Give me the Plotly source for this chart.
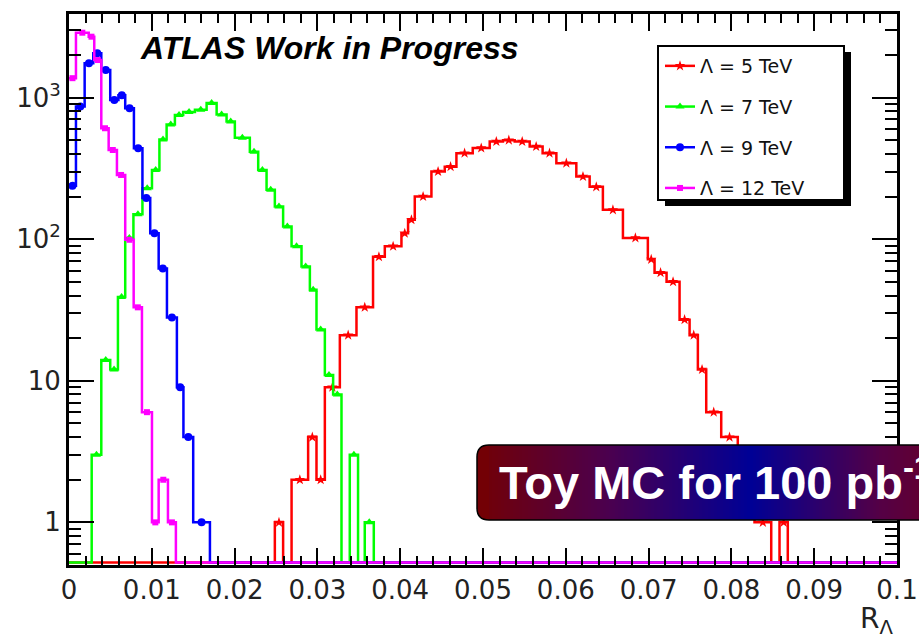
import numpy as np
import plotly.graph_objects as go

# Step edges (in R_Lambda) and entries per step for each contact-interaction scale.
lam5_edges = [0.02486, 0.02586, 0.02688, 0.02888, 0.02989, 0.0309, 0.03271, 0.03472, 0.03672,
              0.03814, 0.04015, 0.04095, 0.04176, 0.04377, 0.04538, 0.04679, 0.04876, 0.05081,
              0.05241, 0.05383, 0.05564, 0.0572, 0.05886, 0.06127, 0.06288, 0.06448, 0.0669,
              0.06991, 0.07072, 0.07217, 0.07374, 0.07495, 0.07595, 0.07696, 0.07877, 0.08077,
              0.08179, 0.08279, 0.08481, 0.08581, 0.08681]
lam5_counts = [1, 0, 2, 4, 2, 9, 21, 33, 75, 89, 110, 137, 200, 300, 325, 405, 440, 489, 500, 489,
               451, 405, 344, 277, 234, 161, 102, 72, 58, 50, 27, 21, 12, 6, 4, 3, 2, 1, 0, 1]

lam7_edges = [0.00274, 0.0039, 0.00498, 0.00591, 0.00679, 0.00778, 0.00887, 0.01002, 0.01092,
              0.01179, 0.01279, 0.01379, 0.01521, 0.01662, 0.01783, 0.01903, 0.02003, 0.02184,
              0.02285, 0.02386, 0.02486, 0.02586, 0.02688, 0.02808, 0.02909, 0.02989, 0.0309,
              0.0319, 0.03291, 0.03391, 0.03491, 0.03572, 0.03681]
lam7_counts = [3, 14, 12, 39, 102, 150, 229, 308, 505, 645, 754, 790, 820, 915, 760, 676, 520, 415,
               308, 223, 170, 123, 89, 64, 44, 23, 11, 8, 0, 3, 0, 1]

lam9_edges = [0.0, 0.00084, 0.00189, 0.00293, 0.0039, 0.00498, 0.00597, 0.00679, 0.00784, 0.00887,
              0.00981, 0.01083, 0.01183, 0.01303, 0.01382, 0.015, 0.01702]
lam9_counts = [238, 863, 1746, 2056, 1567, 962, 1040, 841, 439, 195, 110, 62, 28, 9, 4, 1]

lam12_edges = [0.0, 0.00084, 0.00238, 0.00305, 0.0039, 0.00479, 0.00579, 0.00679, 0.00781, 0.00881,
               0.01002, 0.01083, 0.01195, 0.01291]
lam12_counts = [1370, 2870, 2690, 1840, 607, 426, 284, 99, 33, 6, 1, 2, 1]

series_names = ["\u039b = 5 TeV", "\u039b = 7 TeV", "\u039b = 9 TeV", "\u039b = 12 TeV"]
series_colors = ["#ff0000", "#00ff00", "#0000ff", "#ff00ff"]
series_symbols = ["star", "triangle-up", "circle", "square"]
series_msize = [8, 8, 8, 6]

y_tick_vals = [1, 10, 100, 1000]
y_tick_text = ["1", "10", "10<sup>2</sup>", "10<sup>3</sup>"]

X_RANGE = (0.0, 0.1)
Y_RANGE = (0.5, 3890.0)
EMPTY_LEVEL = 0.52  # empty bins are drawn along the lower frame

SANS = "DejaVu Sans, Verdana, sans-serif"
HELV = "Liberation Sans, Arial, sans-serif"

# figure geometry (pixels) used to place decorations
W, H = 919, 637
ML, MR, MT, MB = 69, 22, 14, 72
PW, PH = W - ML - MR, H - MT - MB


def px(xp):
    return (xp - ML) / PW


def py(yp):
    return (H - MB - yp) / PH


def step_outline(edges, counts):
    e = list(edges)
    c = list(counts)
    if e[0] > X_RANGE[0]:
        e = [X_RANGE[0]] + e
        c = [0] + c
    if e[-1] < X_RANGE[1]:
        e = e + [X_RANGE[1]]
        c = c + [0]
    xs, ys = [], []
    for i, v in enumerate(c):
        level = v if v > 0 else EMPTY_LEVEL
        xs += [e[i], e[i + 1]]
        ys += [level, level]
    return xs, ys


fig = go.Figure()
all_series = [(lam5_edges, lam5_counts), (lam7_edges, lam7_counts),
              (lam9_edges, lam9_counts), (lam12_edges, lam12_counts)]

for (edges, counts), name, col, sym, ms in zip(all_series, series_names, series_colors,
                                               series_symbols, series_msize):
    xs, ys = step_outline(edges, counts)
    fig.add_trace(go.Scatter(x=xs, y=ys, mode="lines", line=dict(color=col, width=2.5),
                             showlegend=False, hoverinfo="skip"))
    e = np.array(edges)
    c = np.array(counts, dtype=float)
    centers = 0.5 * (e[:-1] + e[1:])
    keep = c > 0
    fig.add_trace(go.Scatter(x=centers[keep], y=c[keep], mode="markers",
                             marker=dict(color=col, symbol=sym, size=ms, line=dict(width=0)),
                             showlegend=False, name=name))

# legend entries
for i, (name, col, sym, ms) in enumerate(zip(series_names, series_colors, series_symbols,
                                             series_msize)):
    fig.add_trace(go.Scatter(x=[None], y=[None], mode="lines+markers", name=name,
                             legendgroup=f"g{i}",
                             line=dict(color=col, width=2.5),
                             marker=dict(color=col, symbol=sym, size=ms)))

shapes = []
# legend frame with drop shadow
shapes.append(dict(type="rect", xref="paper", yref="paper", x0=px(665), x1=px(851),
                   y0=py(206), y1=py(52), fillcolor="black", line=dict(width=0), layer="above"))
shapes.append(dict(type="rect", xref="paper", yref="paper", x0=px(658), x1=px(844),
                   y0=py(200), y1=py(46), fillcolor="white", line=dict(color="black", width=2),
                   layer="above"))

# "Toy MC" banner: rounded box with a red-blue-red colour ramp
bx0, btop, bbot, rad, bx1 = 477, 445, 520, 12, 1040


def banner_path():
    d = "M {},{} L {},{} L {},{} L {},{} ".format(px(bx0 + rad), py(btop), px(bx1), py(btop),
                                                 px(bx1), py(bbot), px(bx0 + rad), py(bbot))
    d += "Q {},{} {},{} ".format(px(bx0), py(bbot), px(bx0), py(bbot - rad))
    d += "L {},{} ".format(px(bx0), py(btop + rad))
    d += "Q {},{} {},{} Z".format(px(bx0), py(btop), px(bx0 + rad), py(btop))
    return d


ramp_x = [477, 610, 750, 880, 1000]
ramp_rgb = [(115, 0, 5), (75, 0, 80), (0, 0, 150), (85, 0, 70), (120, 0, 15)]

shapes.append(dict(type="path", xref="paper", yref="paper", path=banner_path(),
                   fillcolor="rgb(115,0,5)", line=dict(width=0), layer="above"))
step = 3
for xs in range(bx0 + rad, W + step, step):
    xm = xs + step / 2
    r = int(np.interp(xm, ramp_x, [c[0] for c in ramp_rgb]))
    g = int(np.interp(xm, ramp_x, [c[1] for c in ramp_rgb]))
    b = int(np.interp(xm, ramp_x, [c[2] for c in ramp_rgb]))
    shapes.append(dict(type="rect", xref="paper", yref="paper", x0=px(xs), x1=px(xs + step + 0.5),
                       y0=py(bbot), y1=py(btop), fillcolor=f"rgb({r},{g},{b})",
                       line=dict(width=0), layer="above"))
shapes.append(dict(type="path", xref="paper", yref="paper", path=banner_path(),
                   fillcolor="rgba(0,0,0,0)", line=dict(color="black", width=1.5), layer="above"))

annotations = [
    dict(text="<b><i>ATLAS Work in Progress</i></b>", xref="paper", yref="paper",
         x=px(138), y=py(48), xanchor="left", yanchor="middle", showarrow=False,
         font=dict(family=HELV, size=32, color="black")),
    dict(text="<b>Toy MC for 100 pb<sup>-1</sup></b>", xref="paper", yref="paper",
         x=px(497), y=py(479), xanchor="left", yanchor="middle", showarrow=False,
         font=dict(family=HELV, size=47, color="white")),
    dict(text="R<sub>\u039b</sub>", xref="paper", yref="paper",
         x=px(895), y=py(620), xanchor="right", yanchor="middle", showarrow=False,
         font=dict(family=SANS, size=28, color="#222")),
]

minor_y = [v * d for d in (0.1, 1, 10, 100, 1000) for v in range(2, 10) if 0.5 <= v * d <= 3890]

tick_font = dict(family=SANS, size=26, color="#222")

fig.update_layout(
    template="none",
    width=W, height=H,
    margin=dict(l=ML, r=MR, t=MT, b=MB, pad=0),
    paper_bgcolor="white", plot_bgcolor="white",
    shapes=shapes, annotations=annotations,
    showlegend=True,
    legend=dict(x=px(660), y=py(47), xanchor="left", yanchor="top",
                bgcolor="rgba(0,0,0,0)", borderwidth=0, tracegroupgap=13,
                font=dict(family=SANS, size=19, color="#111")),
    xaxis=dict(range=list(X_RANGE), tickmode="linear", tick0=0, dtick=0.01,
               ticks="inside", ticklen=17, tickwidth=2, tickcolor="black",
               showline=True, linewidth=3, linecolor="black", mirror="ticks",
               showgrid=False, zeroline=False, tickfont=tick_font, automargin=False,
               minor=dict(dtick=0.002, ticks="inside", ticklen=9, tickwidth=2,
                          tickcolor="black", showgrid=False)),
    yaxis=dict(type="log", range=[np.log10(Y_RANGE[0]), np.log10(Y_RANGE[1])],
               tickmode="array", tickvals=y_tick_vals, ticktext=y_tick_text,
               ticks="inside", ticklen=25, tickwidth=2, tickcolor="black",
               showline=True, linewidth=3, linecolor="black", mirror="ticks",
               showgrid=False, zeroline=False, tickfont=tick_font, automargin=False,
               minor=dict(tickmode="array", tickvals=minor_y, ticks="inside", ticklen=12,
                          tickwidth=2, tickcolor="black", showgrid=False)),
)

fig.write_html("out.html")
